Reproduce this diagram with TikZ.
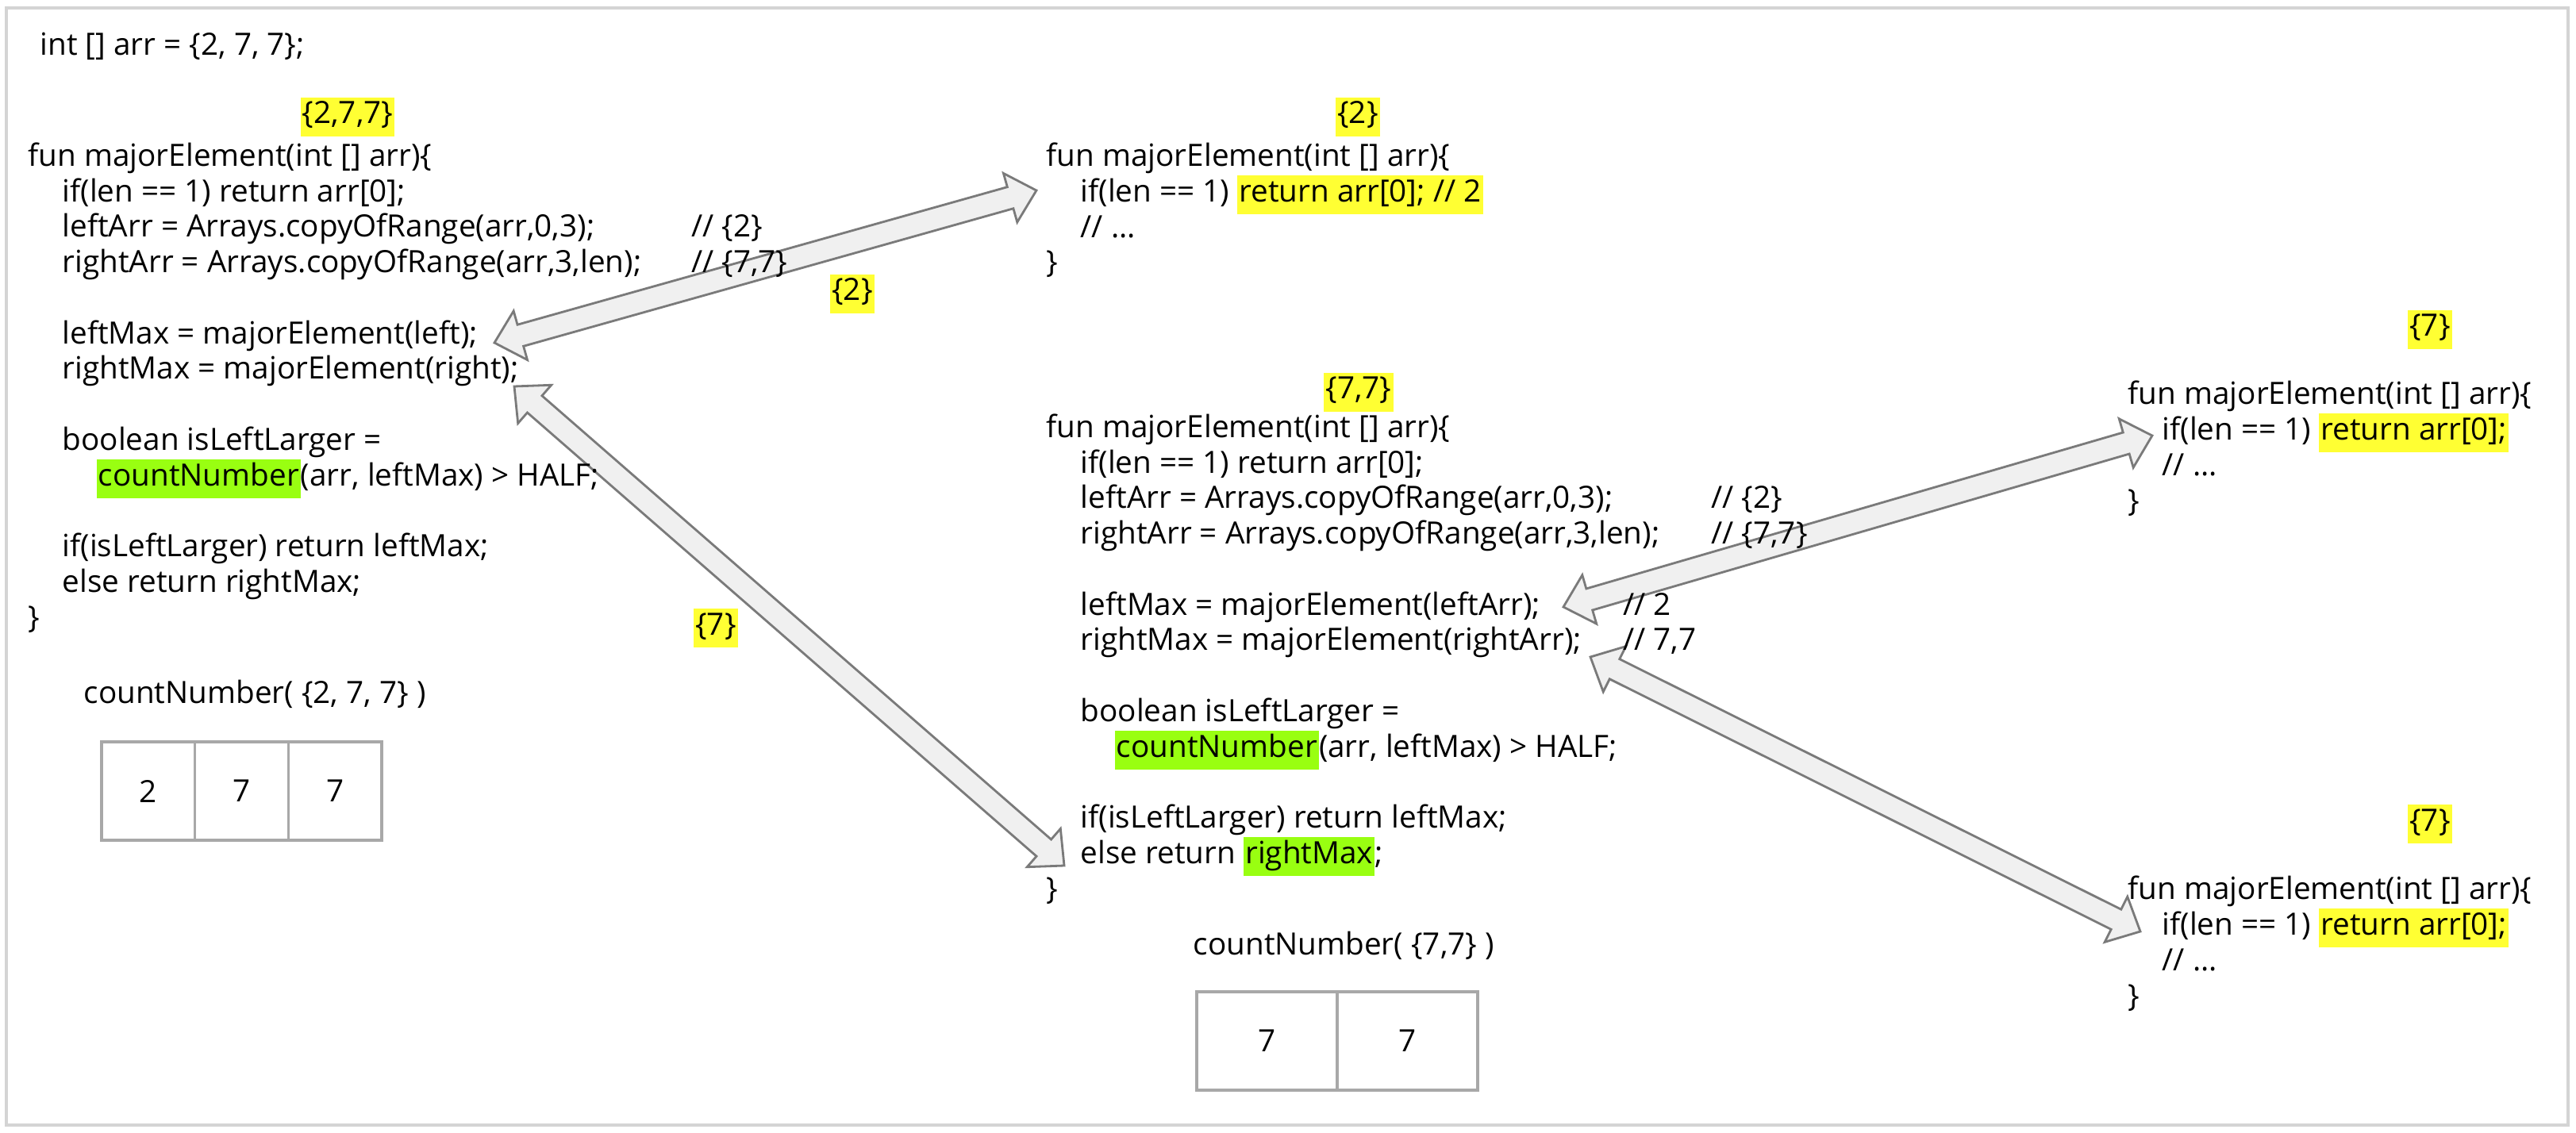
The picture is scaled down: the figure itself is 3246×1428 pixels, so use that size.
\documentclass[tikz,border=0pt]{standalone}
\usepackage{fontspec}
\setmainfont{Open Sans}
\usetikzlibrary{calc}

\definecolor{hlyellow}{HTML}{FFFF33}
\definecolor{hlgreen}{HTML}{99FF11}
\definecolor{arrowfill}{HTML}{F0F0F0}
\definecolor{arrowline}{HTML}{7A7A7A}
\definecolor{cellline}{HTML}{A8A8A8}
\definecolor{frameline}{HTML}{D4D4D4}

\setlength{\fboxsep}{0.6pt}
\newcommand\codefont{\fontsize{11}{12.72}\selectfont}
\newcommand\hly[1]{\smash{\colorbox{hlyellow}{\strut#1}}}
\newcommand\hlg[1]{\smash{\colorbox{hlgreen}{\strut#1}}}
\newcommand\ind{\hspace*{0.43cm}}
\newcommand\indd{\hspace*{0.86cm}}
\def\lskip{12.72pt}
% block arrow sizes
\def\arrheadlen{9.7pt}
\def\arrheadwid{9.1pt}
\def\arrshaftwid{4pt}
\newcommand\blockarrow[2]{%
  \draw[blockarrow] let \p1=(#1), \p2=(#2),
    \n1={atan2(\y2-\y1,\x2-\x1)}, \n2={veclen(\x2-\x1,\y2-\y1)} in
    {[shift={(\p1)},rotate=\n1]
    (0pt,0pt) -- (\arrheadlen,\arrheadwid) -- (\arrheadlen,\arrshaftwid)
    -- (\n2-\arrheadlen,\arrshaftwid) -- (\n2-\arrheadlen,\arrheadwid)
    -- (\n2,0pt) -- (\n2-\arrheadlen,-\arrheadwid)
    -- (\n2-\arrheadlen,-\arrshaftwid) -- (\arrheadlen,-\arrshaftwid)
    -- (\arrheadlen,-\arrheadwid) -- cycle};}

\begin{document}
\begin{tikzpicture}[x=0.01cm,y=-0.01cm,
  code/.style={anchor=base west,inner sep=0pt,align=left,font=\codefont},
  label/.style={anchor=base,inner sep=0pt,font=\codefont},
  cell/.style={draw=cellline,line width=1pt,minimum height=1.24cm,inner sep=0pt,font=\codefont},
  blockarrow/.style={draw=arrowline,fill=arrowfill,line width=0.8pt}]
\useasboundingbox (0,0) rectangle (3246,1428);
\draw[frameline,line width=1.2pt] (8,10) rectangle (3236,1418);

% ends of the call arrows
\coordinate (callL) at (623,432);
\coordinate (fnL) at (1306,240);
\coordinate (callR) at (648,487);
\coordinate (retR) at (1341,1091);
\coordinate (callLL) at (1970,765);
\coordinate (fnLL) at (2712,549);
\coordinate (callRR) at (2004,828);
\coordinate (fnRR) at (2697,1174);

\blockarrow{callL}{fnL}
\blockarrow{callR}{retR}
\blockarrow{callLL}{fnLL}
\blockarrow{callRR}{fnRR}

% first call, whole array (code nodes sit on their last line)
\node[code] (decl) at (50,70) {int [] arr = \{2, 7, 7\};};
\node[label] (argA) at (438,156) {\hly{\{2,7,7\}}};
\node[code] (fnA) at (35,791) {fun majorElement(int [] arr)\{\\
\ind if(len == 1) return arr[0];\\
\rlap{\hspace{8.35cm}// \{2\}}\ind leftArr = Arrays.copyOfRange(arr,0,3);\\
\rlap{\hspace{8.35cm}// \{7,7\}}\ind rightArr = Arrays.copyOfRange(arr,3,len);\\[\lskip]
\ind leftMax = majorElement(left);\\
\ind rightMax = majorElement(right);\\[\lskip]
\ind boolean isLeftLarger =\\
\indd\hlg{countNumber}(arr, leftMax) > HALF;\\[\lskip]
\ind if(isLeftLarger) return leftMax;\\
\ind else return rightMax;\\
\}};
\node[label] (retA) at (1074,379) {\hly{\{2\}}};
\node[label] (retB) at (902,800) {\hly{\{7\}}};
\node[code] (cntA) at (105,886) {countNumber( \{2, 7, 7\} )};
\foreach[count=\i] \v in {2,7,7}
  \node[cell,minimum width=1.177cm] (cellA\i) at ({128+117.7*(\i-0.5)},997) {\v};

% left half
\node[label] (argB) at (1711,156) {\hly{\{2\}}};
\node[code] (fnB) at (1318,344) {fun majorElement(int [] arr)\{\\
\ind if(len == 1) \hly{return arr[0]; // 2}\\
\ind // ...\\
\}};

% right half
\node[label] (argC) at (1712,503) {\hly{\{7,7\}}};
\node[code] (fnC) at (1318,1133) {fun majorElement(int [] arr)\{\\
\ind if(len == 1) return arr[0];\\
\rlap{\hspace{8.37cm}// \{2\}}\ind leftArr = Arrays.copyOfRange(arr,0,3);\\
\rlap{\hspace{8.37cm}// \{7,7\}}\ind rightArr = Arrays.copyOfRange(arr,3,len);\\[\lskip]
\rlap{\hspace{7.26cm}// 2}\ind leftMax = majorElement(leftArr);\\
\rlap{\hspace{7.26cm}// 7,7}\ind rightMax = majorElement(rightArr);\\[\lskip]
\ind boolean isLeftLarger =\\
\indd\hlg{countNumber}(arr, leftMax) > HALF;\\[\lskip]
\ind if(isLeftLarger) return leftMax;\\
\ind else return \hlg{rightMax};\\
\}};
\node[code] (cntC) at (1503,1203) {countNumber( \{7,7\} )};
\foreach[count=\i] \v in {7,7}
  \node[cell,minimum width=1.77cm] (cellC\i) at ({1508+177*(\i-0.5)},1312) {\v};

% single elements
\node[label] (argD) at (3062,424) {\hly{\{7\}}};
\node[code] (fnD) at (2681,644) {fun majorElement(int [] arr)\{\\
\ind if(len == 1) \hly{return arr[0];}\\
\ind // ...\\
\}};
\node[label] (argE) at (3062,1047) {\hly{\{7\}}};
\node[code] (fnE) at (2681,1268) {fun majorElement(int [] arr)\{\\
\ind if(len == 1) \hly{return arr[0];}\\
\ind // ...\\
\}};
\end{tikzpicture}
\end{document}
